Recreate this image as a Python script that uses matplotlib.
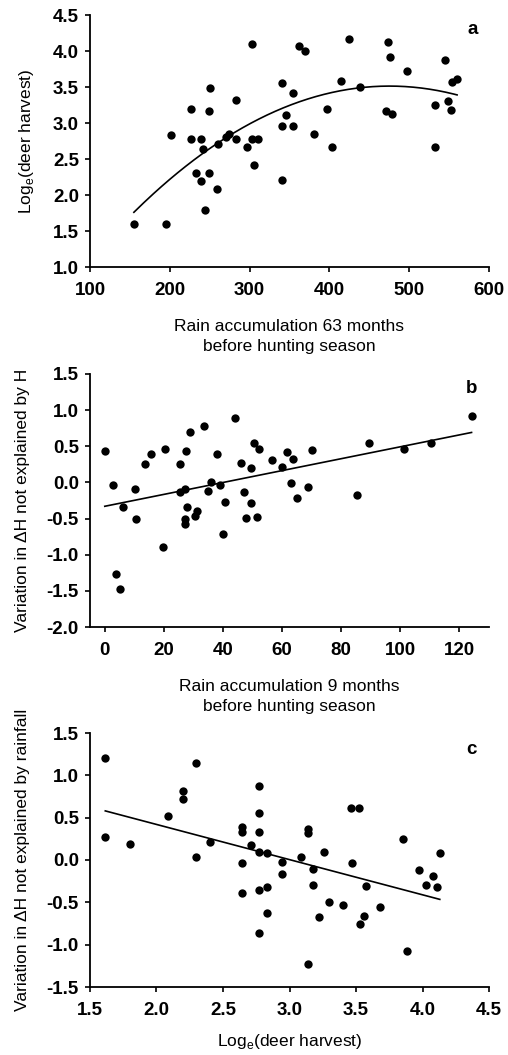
import numpy as np
import matplotlib
matplotlib.use("Agg")
import matplotlib.pyplot as plt

plt.rcParams['font.family'] = ['Liberation Sans', 'DejaVu Sans']

# ---- Panel a data ----
a_x = [155, 195, 244, 201.5, 226.6, 226.6, 239, 242, 250, 248.7, 233, 239, 249,
       259, 261, 270, 274, 282.6, 283.3, 297, 303.4, 303.4, 305, 310.5, 340.6,
       340.6, 340.6, 345.6, 354.8, 354.8, 361.9, 369, 381, 397.4, 403.3, 415,
       424.6, 438.7, 473.4, 476, 471, 478.4, 497, 532.3, 532.3, 544.9, 549,
       552.4, 554, 560.3]
a_y = [1.60, 1.60, 1.79, 2.84, 3.19, 2.78, 2.78, 2.64, 3.48, 3.16, 2.30, 2.20,
       2.30, 2.08, 2.71, 2.80, 2.85, 2.78, 3.32, 2.66, 4.10, 2.78, 2.41, 2.78,
       3.56, 2.96, 2.21, 3.11, 3.42, 2.96, 4.07, 4.00, 2.85, 3.20, 2.66, 3.59,
       4.17, 3.50, 4.13, 3.92, 3.17, 3.12, 3.72, 3.25, 2.67, 3.88, 3.30, 3.18,
       3.57, 3.61]
a_fit_coef = [-1.7085e-5, 0.016241, -0.347]   # quadratic, highest power first
a_fit_range = [155, 560]

# ---- Panel b data ----
b_x = [0.2, 2.7, 6.1, 10.1, 10.6, 13.6, 15.7, 20.5, 25.4, 25.3, 27.3, 27.6,
       27.7, 29.0, 27.3, 27.3, 30.4, 31.3, 33.5, 34.9, 36.1, 38.0, 39.0, 40.7,
       40.0, 44.1, 46.1, 47.1, 47.7, 49.6, 49.6, 50.4, 51.5, 52.2, 56.7, 59.8,
       61.5, 63.1, 63.6, 65.0, 68.6, 70.2, 85.3, 89.4, 101.4, 110.5, 124.1,
       3.9, 5.3, 19.7]
b_y = [0.43, -0.04, -0.34, -0.09, -0.51, 0.26, 0.39, 0.46, 0.26, -0.13, -0.09,
       0.44, -0.34, 0.70, -0.51, -0.57, -0.46, -0.40, 0.78, -0.12, 0.01, 0.39,
       -0.03, -0.27, -0.71, 0.89, 0.27, -0.13, -0.49, 0.20, -0.29, 0.55, -0.48,
       0.46, 0.31, 0.21, 0.42, -0.01, 0.32, -0.22, -0.07, 0.45, -0.17, 0.54,
       0.46, 0.55, 0.92, -1.26, -1.48, -0.89]
b_fit = [-0.33, 0.00823]   # intercept, slope
b_fit_range = [0, 124.1]

# ---- Panel c data ----
c_x = [1.615, 1.615, 1.80, 2.086, 2.199, 2.199, 2.30, 2.30, 2.40, 2.645, 2.645,
       2.71, 2.77, 2.77, 2.77, 2.77, 2.83, 2.94, 3.09, 3.14, 3.14, 3.257,
       3.46, 3.52, 3.85, 4.13, 2.645, 2.645, 2.77, 2.77, 2.83, 2.83, 2.94, 3.18,
       3.18, 3.14, 3.22, 3.30, 3.40, 3.47, 3.53, 3.56, 3.575, 3.68, 3.88, 3.97,
       4.03, 4.08, 4.11]
c_y = [1.21, 0.27, 0.19, 0.52, 0.82, 0.72, 1.14, 0.03, 0.21, 0.39, 0.33, 0.18,
       0.87, 0.56, 0.33, 0.10, 0.08, -0.02, 0.03, 0.37, 0.32, 0.10, 0.61,
       0.62, 0.25, 0.085, -0.04, -0.39, -0.36, -0.86, -0.32, -0.63, -0.16,
       -0.11, -0.30, -1.23, -0.67, -0.50, -0.53, -0.03, -0.75, -0.66, -0.31,
       -0.55, -1.07, -0.12, -0.29, -0.19, -0.32]
c_fit = [1.251, -0.4155]
c_fit_range = [1.615, 4.13]

a_xticks = [100, 200, 300, 400, 500, 600]
a_yticks = [1.0, 1.5, 2.0, 2.5, 3.0, 3.5, 4.0, 4.5]
b_xticks = [0, 20, 40, 60, 80, 100, 120]
b_yticks = [-2.0, -1.5, -1.0, -0.5, 0.0, 0.5, 1.0, 1.5]
c_xticks = [1.5, 2.0, 2.5, 3.0, 3.5, 4.0, 4.5]
c_yticks = [-1.5, -1.0, -0.5, 0.0, 0.5, 1.0, 1.5]

W, H = 508, 1055
fig = plt.figure(figsize=(W / 100, H / 100), dpi=100)

def make_ax(top_px, bot_px):
    left, right = 90, 489
    return fig.add_axes([left / W, 1 - bot_px / H, (right - left) / W, (bot_px - top_px) / H])

axa = make_ax(15, 267)
axb = make_ax(374, 627)
axc = make_ax(733, 987)

def style(ax, xt, yt, xlim, ylim, xfmt, yfmt):
    ax.set_xlim(*xlim)
    ax.set_ylim(*ylim)
    ax.set_xticks(xt)
    ax.set_yticks(yt)
    ax.set_xticklabels([xfmt.format(v) for v in xt])
    ax.set_yticklabels([yfmt.format(v) for v in yt])
    for s in ['top', 'right']:
        ax.spines[s].set_visible(False)
    for s in ['left', 'bottom']:
        ax.spines[s].set_linewidth(1.3)
    ax.tick_params(direction='out', length=3.5, width=1.2, labelsize=13.5)
    ax.tick_params(axis='x', pad=7.5)
    ax.tick_params(axis='y', pad=4.5)
    for lab in ax.get_xticklabels() + ax.get_yticklabels():
        lab.set_fontweight('bold')

ms = 36
lab_fs = 12.5

# Panel a
axa.scatter(a_x, a_y, s=ms, color='black', zorder=3, linewidths=0)
xa = np.linspace(a_fit_range[0], a_fit_range[1], 200)
axa.plot(xa, np.polyval(a_fit_coef, xa), color='black', lw=1.2)
style(axa, a_xticks, a_yticks, (100, 600), (1.0, 4.5), '{:.0f}', '{:.1f}')
axa.set_xlabel('Rain accumulation 63 months\nbefore hunting season', fontsize=lab_fs, labelpad=14, linespacing=1.45)
axa.set_ylabel(r'Log$_\mathregular{e}$(deer harvest)', fontsize=lab_fs, labelpad=12)
axa.text(580, 4.3, 'a', fontsize=13.5, fontweight='bold', ha='center', va='center')

# Panel b
axb.scatter(b_x, b_y, s=ms, color='black', zorder=3, linewidths=0)
xb = np.array(b_fit_range)
axb.plot(xb, b_fit[0] + b_fit[1] * xb, color='black', lw=1.2)
style(axb, b_xticks, b_yticks, (-5, 130), (-2.0, 1.5), '{:.0f}', '{:.1f}')
axb.set_xlabel('Rain accumulation 9 months\nbefore hunting season', fontsize=lab_fs, labelpad=14, linespacing=1.45)
axb.set_ylabel('Variation in ΔH not explained by H', fontsize=lab_fs, labelpad=12)
axb.text(124, 1.3, 'b', fontsize=13.5, fontweight='bold', ha='center', va='center')

# Panel c
axc.scatter(c_x, c_y, s=ms, color='black', zorder=3, linewidths=0)
xc = np.array(c_fit_range)
axc.plot(xc, c_fit[0] + c_fit[1] * xc, color='black', lw=1.2)
style(axc, c_xticks, c_yticks, (1.5, 4.5), (-1.5, 1.5), '{:.1f}', '{:.1f}')
axc.set_xlabel(r'Log$_\mathregular{e}$(deer harvest)', fontsize=lab_fs, labelpad=9)
axc.set_ylabel('Variation in ΔH not explained by rainfall', fontsize=lab_fs, labelpad=12)
axc.text(4.37, 1.3, 'c', fontsize=13.5, fontweight='bold', ha='center', va='center')

fig.savefig('out.png', dpi=100)
